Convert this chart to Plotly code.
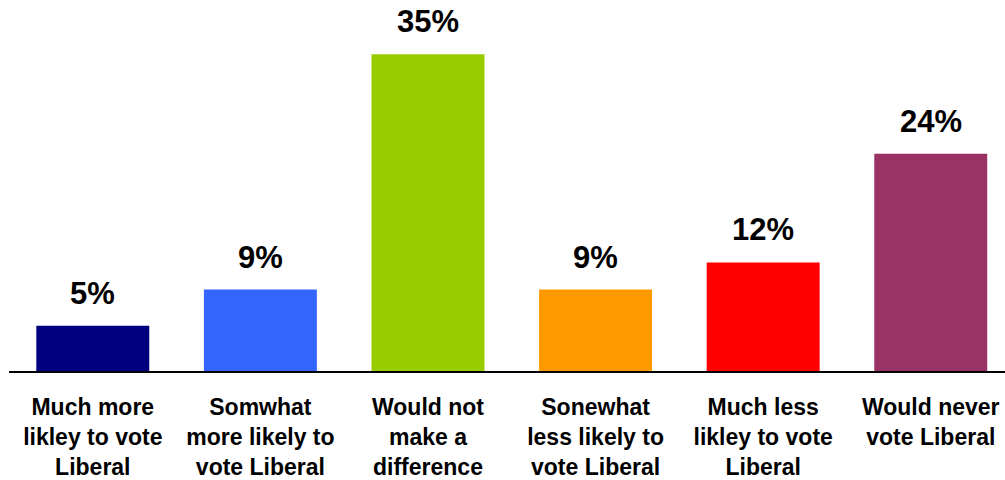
import plotly.graph_objects as go

categories = [
    "Much more<br>likley to vote<br>Liberal",
    "Somwhat<br>more likely to<br>vote Liberal",
    "Would not<br>make a<br>difference",
    "Sonewhat<br>less likely to<br>vote Liberal",
    "Much less<br>likley to vote<br>Liberal",
    "Would never<br>vote Liberal",
]
values = [5, 9, 35, 9, 12, 24]
value_labels = ["5%", "9%", "35%", "9%", "12%", "24%"]
colors = ["#000080", "#3366FF", "#99CC00", "#FF9900", "#FF0000", "#993366"]

FONT = "Liberation Sans, Arial, Helvetica, sans-serif"

fig = go.Figure(
    go.Bar(
        x=categories,
        y=values,
        marker=dict(color=colors, line=dict(width=0)),
        hoverinfo="skip",
    )
)

for c, v, t in zip(categories, values, value_labels):
    fig.add_annotation(
        x=c, y=v, text=t, showarrow=False,
        xanchor="center", yanchor="bottom", yshift=13,
        font=dict(family=FONT, size=31, color="#000000", weight="bold"),
    )

fig.update_layout(
    width=1005, height=480,
    margin=dict(l=9, r=0, t=0, b=109, autoexpand=False),
    paper_bgcolor="white", plot_bgcolor="white",
    bargap=0.326,
    showlegend=False,
    xaxis=dict(
        range=[-0.5, 5.443],
        showline=True, linecolor="#000000", linewidth=1.5,
        showgrid=False, zeroline=False, ticks="",
        ticklabelstandoff=15,
        tickfont=dict(family=FONT, size=23, color="#000000", weight="bold"),
        automargin=False, fixedrange=True,
    ),
    yaxis=dict(
        range=[0, 40.99], visible=False, showgrid=False, zeroline=False,
        automargin=False, fixedrange=True,
    ),
)

fig.write_html(
    "out.html",
    config={"displayModeBar": False},
    post_script="document.body.style.margin='0';document.body.style.overflow='hidden';",
)
